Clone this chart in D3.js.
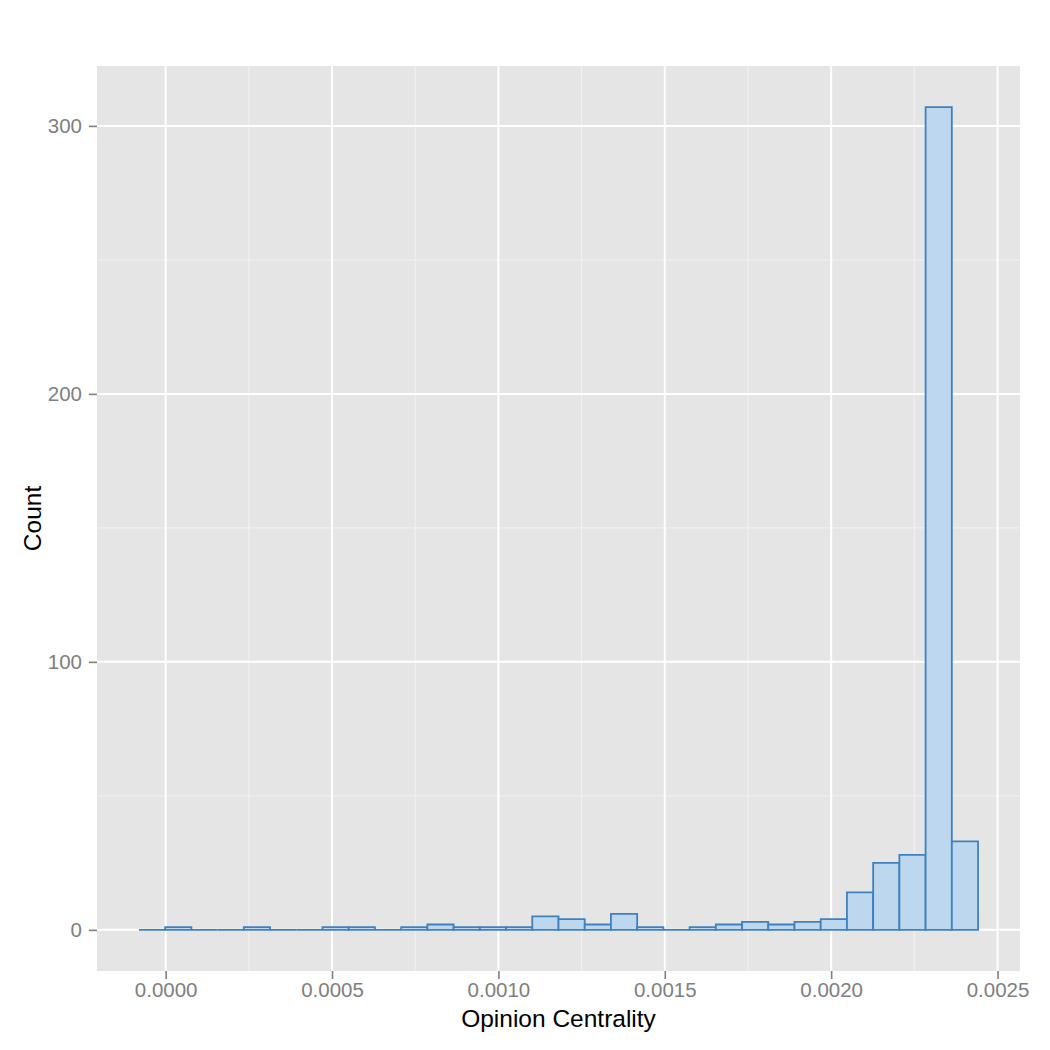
<!DOCTYPE html>
<html><head><meta charset="utf-8">
<script src="https://cdn.jsdelivr.net/npm/d3@7"></script>
<style>body{margin:0;background:#fff}svg{display:block}text{font-family:"Liberation Sans",Arial,Helvetica,sans-serif}</style>
</head><body>
<script>
// Histogram counts, 32 bins
const counts = [0,1,0,0,1,0,0,1,1,0,1,2,1,1,1,5,4,2,6,1,0,1,2,3,2,3,4,14,25,28,307,33];
const binStart = -0.0000802;
const binWidth = 0.0000788;
const xTicks = [0,0.0005,0.001,0.0015,0.002,0.0025];
const xTickLabels = ["0.0000","0.0005","0.0010","0.0015","0.0020","0.0025"];
const xMinor = [0.00025,0.00075,0.00125,0.00175,0.00225];
const yTicks = [0,100,200,300];
const yMinor = [50,150,250];

const bins = counts.map((c,i)=>({x0: binStart + i*binWidth, x1: binStart + (i+1)*binWidth, n: c}));

const W=1050,H=1050;
const panel={l:97,r:1020,t:66,b:971};
const svg=d3.select("body").append("svg").attr("width",W).attr("height",H);

const xMin=binStart, xMax=binStart+counts.length*binWidth;
const xPad=(xMax-xMin)*0.05;
const x=d3.scaleLinear().domain([xMin-xPad,xMax+xPad]).range([panel.l,panel.r]);
const yMax=d3.max(counts);
const y=d3.scaleLinear().domain([-yMax*0.05,yMax*1.05]).range([panel.b,panel.t]);

svg.append("rect").attr("x",panel.l).attr("y",panel.t).attr("width",panel.r-panel.l).attr("height",panel.b-panel.t).attr("fill","#e5e5e5");

const g=svg.append("g");
g.selectAll("line.xmin").data(xMinor).enter().append("line")
 .attr("x1",d=>x(d)).attr("x2",d=>x(d)).attr("y1",panel.t).attr("y2",panel.b).attr("stroke","#f2f2f2").attr("stroke-width",1);
g.selectAll("line.ymin").data(yMinor).enter().append("line")
 .attr("y1",d=>y(d)).attr("y2",d=>y(d)).attr("x1",panel.l).attr("x2",panel.r).attr("stroke","#f2f2f2").attr("stroke-width",1);
g.selectAll("line.xmaj").data(xTicks).enter().append("line")
 .attr("x1",d=>x(d)).attr("x2",d=>x(d)).attr("y1",panel.t).attr("y2",panel.b).attr("stroke","#fff").attr("stroke-width",2);
g.selectAll("line.ymaj").data(yTicks).enter().append("line")
 .attr("y1",d=>y(d)).attr("y2",d=>y(d)).attr("x1",panel.l).attr("x2",panel.r).attr("stroke","#fff").attr("stroke-width",2);

svg.append("g").selectAll("path").data(bins).enter().append("path")
 .attr("d",d=>{const a=x(d.x0),b=x(d.x1),y0=y(0),y1=y(d.n);return `M${a},${y0}V${y1}H${b}V${y0}Z`;})
 .attr("fill","#bdd8ee").attr("stroke","#3f80bf").attr("stroke-width",1.8).attr("stroke-linejoin","miter");

// axes
const fontTick="20.5px";
const xAxis=d3.axisBottom(x).tickValues(xTicks).tickFormat((d,i)=>xTickLabels[i]).tickSize(8).tickPadding(3);
const xa=svg.append("g").attr("transform",`translate(0,${panel.b})`).call(xAxis);
xa.select(".domain").remove();
xa.selectAll("line").attr("stroke","#7f7f7f").attr("stroke-width",1.6);
xa.selectAll("text").attr("fill","#7f7f7f").style("font-size",fontTick).style("font-family","'Liberation Sans',Arial,sans-serif");

const yAxis=d3.axisLeft(y).tickValues(yTicks).tickSize(8).tickPadding(7);
const ya=svg.append("g").attr("transform",`translate(${panel.l},0)`).call(yAxis);
ya.select(".domain").remove();
ya.selectAll("line").attr("stroke","#7f7f7f").attr("stroke-width",1.6);
ya.selectAll("text").attr("fill","#7f7f7f").style("font-size",fontTick).style("font-family","'Liberation Sans',Arial,sans-serif");

svg.append("text").attr("x",(panel.l+panel.r)/2).attr("y",1027).attr("text-anchor","middle")
 .style("font-size","24.5px").attr("fill","#000").text("Opinion Centrality");
svg.append("text").attr("transform",`translate(41,${(panel.t+panel.b)/2}) rotate(-90)`).attr("text-anchor","middle")
 .style("font-size","24.5px").attr("fill","#000").text("Count");
</script>
</body></html>
